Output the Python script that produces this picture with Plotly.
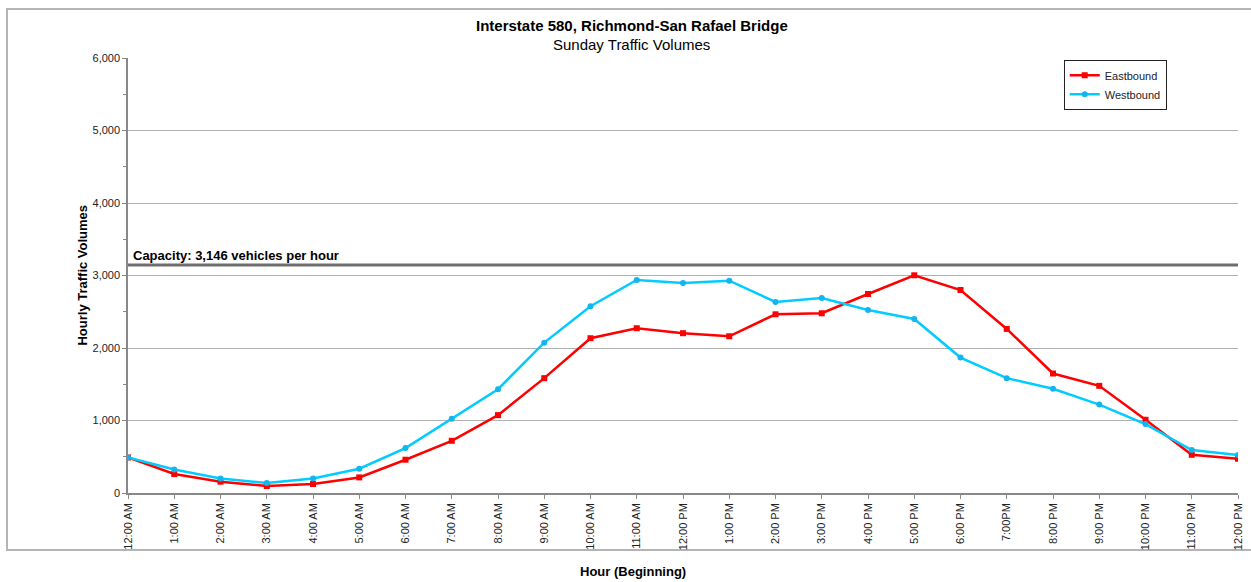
import plotly.graph_objects as go

# ==================== DATA ====================
hour_labels = ['12:00 AM', '1:00 AM', '2:00 AM', '3:00 AM', '4:00 AM', '5:00 AM',
               '6:00 AM', '7:00 AM', '8:00 AM', '9:00 AM', '10:00 AM', '11:00 AM',
               '12:00 PM', '1:00 PM', '2:00 PM', '3:00 PM', '4:00 PM', '5:00 PM',
               '6:00 PM', '7:00PM', '8:00 PM', '9:00 PM', '10:00 PM', '11:00 PM',
               '12:00 PM']

eastbound = [490, 262, 156, 96, 124, 215, 459, 720, 1074, 1584, 2135, 2273,
             2204, 2162, 2465, 2479, 2745, 3003, 2800, 2263, 1648, 1478, 1010,
             527, 472]

westbound = [490, 325, 201, 138, 201, 335, 620, 1023, 1432, 2074, 2576, 2938,
             2896, 2928, 2635, 2690, 2525, 2401, 1868, 1584, 1437, 1220, 950,
             592, 523]

capacity = 3146
capacity_label = 'Capacity: 3,146 vehicles per hour'

FONT = 'Arial, Liberation Sans, sans-serif'

hour_index = list(range(len(hour_labels)))

east_curve = go.Scatter(x=hour_index, y=eastbound, name='Eastbound',
                        mode='lines+markers',
                        line=dict(color='#FF0000', width=2.5),
                        marker=dict(symbol='square', size=6, color='#FF0000'))

west_curve = go.Scatter(x=hour_index, y=westbound, name='Westbound',
                        mode='lines+markers',
                        line=dict(color='#00CCFF', width=2.5),
                        marker=dict(symbol='circle', size=6, color='#14B4EC'))

fig = go.Figure([east_curve, west_curve])

# Capacity line and label
fig.add_shape(type='line', xref='paper', yref='y', x0=0, x1=1,
              y0=capacity, y1=capacity,
              line=dict(color='#6E6E6E', width=3))
fig.add_annotation(xref='paper', yref='y', x=0.003, y=capacity,
                   text='<b>' + capacity_label + '</b>', showarrow=False,
                   xanchor='left', yanchor='bottom', yshift=0,
                   font=dict(family=FONT, size=13, color='#000000'))

# Outer chart frame
fig.add_shape(type='rect', xref='paper', yref='paper',
              x0=-0.109, x1=1.3, y0=-0.131, y1=1.1126,
              line=dict(color='#B4B4B4', width=2), layer='below')

# Titles (placed as annotations so the margins stay fixed)
fig.add_annotation(xref='paper', yref='paper', x=0.454, y=1.0736,
                   text='<b>Interstate 580, Richmond-San Rafael Bridge</b>',
                   showarrow=False, xanchor='center', yanchor='middle',
                   font=dict(family=FONT, size=15, color='#000000'))
fig.add_annotation(xref='paper', yref='paper', x=0.454, y=1.032,
                   text='Sunday Traffic Volumes',
                   showarrow=False, xanchor='center', yanchor='middle',
                   font=dict(family=FONT, size=15, color='#000000'))
fig.add_annotation(xref='paper', yref='paper', x=0.455, y=-0.1816,
                   text='<b>Hour (Beginning)</b>',
                   showarrow=False, xanchor='center', yanchor='middle',
                   font=dict(family=FONT, size=13, color='#000000'))
fig.add_annotation(xref='paper', yref='paper', x=-0.0414, y=0.50,
                   text='<b>Hourly Traffic Volumes</b>', textangle=-90,
                   showarrow=False, xanchor='center', yanchor='middle',
                   font=dict(family=FONT, size=13, color='#000000'))

fig.update_layout(
    width=1251, height=582,
    margin=dict(l=128, r=13, t=58, b=89),
    paper_bgcolor='white', plot_bgcolor='white',
    font=dict(family=FONT, size=11, color='#222222'),
    showlegend=True,
    legend=dict(x=0.843, y=0.996, xanchor='left', yanchor='top',
                bgcolor='white', bordercolor='#222222', borderwidth=1,
                font=dict(family=FONT, size=11, color='#222222'),
                itemwidth=30, tracegroupgap=8),
    hovermode='x',
)

fig.update_xaxes(
    range=[0, 24], tickmode='array', tickvals=hour_index, ticktext=hour_labels,
    tickangle=-90, ticks='outside', ticklen=4, tickcolor='#888888',
    showline=True, linecolor='#888888', linewidth=1.5, showgrid=False,
    zeroline=False, automargin=False,
    tickfont=dict(family=FONT, size=11, color='#222222'),
)

fig.update_yaxes(
    range=[0, 6000], dtick=1000, tickformat=',', ticks='outside', ticklen=4,
    tickcolor='#888888', showline=True, linecolor='#888888', linewidth=1.5,
    showgrid=True, gridcolor='#B0B0B0', gridwidth=1, zeroline=False,
    automargin=False,
    minor=dict(dtick=500, ticks='outside', ticklen=3, tickcolor='#888888',
               showgrid=False),
    tickfont=dict(family=FONT, size=11, color='#222222'),
)

# the page's default body margin would shift the figure by 8px
fig.write_html('out.html', config={'displayModeBar': False},
               post_script="document.body.style.margin='0';")
